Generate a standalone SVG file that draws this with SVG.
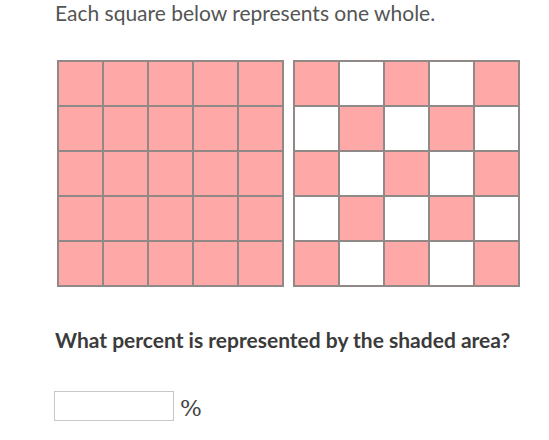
<svg xmlns="http://www.w3.org/2000/svg" width="549" height="440" viewBox="0 0 549 440">
<style>
.t{font-family:Lato,"Liberation Sans",sans-serif;font-size:21px;fill:#555}
.q{font-family:Lato,"Liberation Sans",sans-serif;font-size:21px;font-weight:bold;fill:#3b3b3b}
.p{fill:#ffa8a8;stroke:#918888;stroke-width:2}
.w{fill:#fff;stroke:#918888;stroke-width:2}
</style>
<rect width="549" height="440" fill="#fff"/>
<text class="t" x="55" y="21">Each square below represents one whole.</text>
<g id="left-square">
<rect class="p" x="58" y="61" width="45" height="45"/><rect class="p" x="103" y="61" width="45" height="45"/><rect class="p" x="148" y="61" width="45" height="45"/><rect class="p" x="193" y="61" width="45" height="45"/><rect class="p" x="238" y="61" width="45" height="45"/>
<rect class="p" x="58" y="106" width="45" height="45"/><rect class="p" x="103" y="106" width="45" height="45"/><rect class="p" x="148" y="106" width="45" height="45"/><rect class="p" x="193" y="106" width="45" height="45"/><rect class="p" x="238" y="106" width="45" height="45"/>
<rect class="p" x="58" y="151" width="45" height="45"/><rect class="p" x="103" y="151" width="45" height="45"/><rect class="p" x="148" y="151" width="45" height="45"/><rect class="p" x="193" y="151" width="45" height="45"/><rect class="p" x="238" y="151" width="45" height="45"/>
<rect class="p" x="58" y="196" width="45" height="45"/><rect class="p" x="103" y="196" width="45" height="45"/><rect class="p" x="148" y="196" width="45" height="45"/><rect class="p" x="193" y="196" width="45" height="45"/><rect class="p" x="238" y="196" width="45" height="45"/>
<rect class="p" x="58" y="241" width="45" height="45"/><rect class="p" x="103" y="241" width="45" height="45"/><rect class="p" x="148" y="241" width="45" height="45"/><rect class="p" x="193" y="241" width="45" height="45"/><rect class="p" x="238" y="241" width="45" height="45"/>
</g>
<g id="right-square">
<rect class="p" x="294" y="61" width="45" height="45"/><rect class="w" x="339" y="61" width="45" height="45"/><rect class="p" x="384" y="61" width="45" height="45"/><rect class="w" x="429" y="61" width="45" height="45"/><rect class="p" x="474" y="61" width="45" height="45"/>
<rect class="w" x="294" y="106" width="45" height="45"/><rect class="p" x="339" y="106" width="45" height="45"/><rect class="w" x="384" y="106" width="45" height="45"/><rect class="p" x="429" y="106" width="45" height="45"/><rect class="w" x="474" y="106" width="45" height="45"/>
<rect class="p" x="294" y="151" width="45" height="45"/><rect class="w" x="339" y="151" width="45" height="45"/><rect class="p" x="384" y="151" width="45" height="45"/><rect class="w" x="429" y="151" width="45" height="45"/><rect class="p" x="474" y="151" width="45" height="45"/>
<rect class="w" x="294" y="196" width="45" height="45"/><rect class="p" x="339" y="196" width="45" height="45"/><rect class="w" x="384" y="196" width="45" height="45"/><rect class="p" x="429" y="196" width="45" height="45"/><rect class="w" x="474" y="196" width="45" height="45"/>
<rect class="p" x="294" y="241" width="45" height="45"/><rect class="w" x="339" y="241" width="45" height="45"/><rect class="p" x="384" y="241" width="45" height="45"/><rect class="w" x="429" y="241" width="45" height="45"/><rect class="p" x="474" y="241" width="45" height="45"/>
</g>
<text class="q" x="55" y="348">What percent is represented by the shaded area?</text>
<g id="answer">
<rect x="54.5" y="391.5" width="119" height="29" fill="#fff" stroke="#c8c8c8" stroke-width="1"/>
<text x="180" y="416" font-family="'DejaVu Serif',serif" font-size="23" fill="#444">%</text>
</g>
</svg>
